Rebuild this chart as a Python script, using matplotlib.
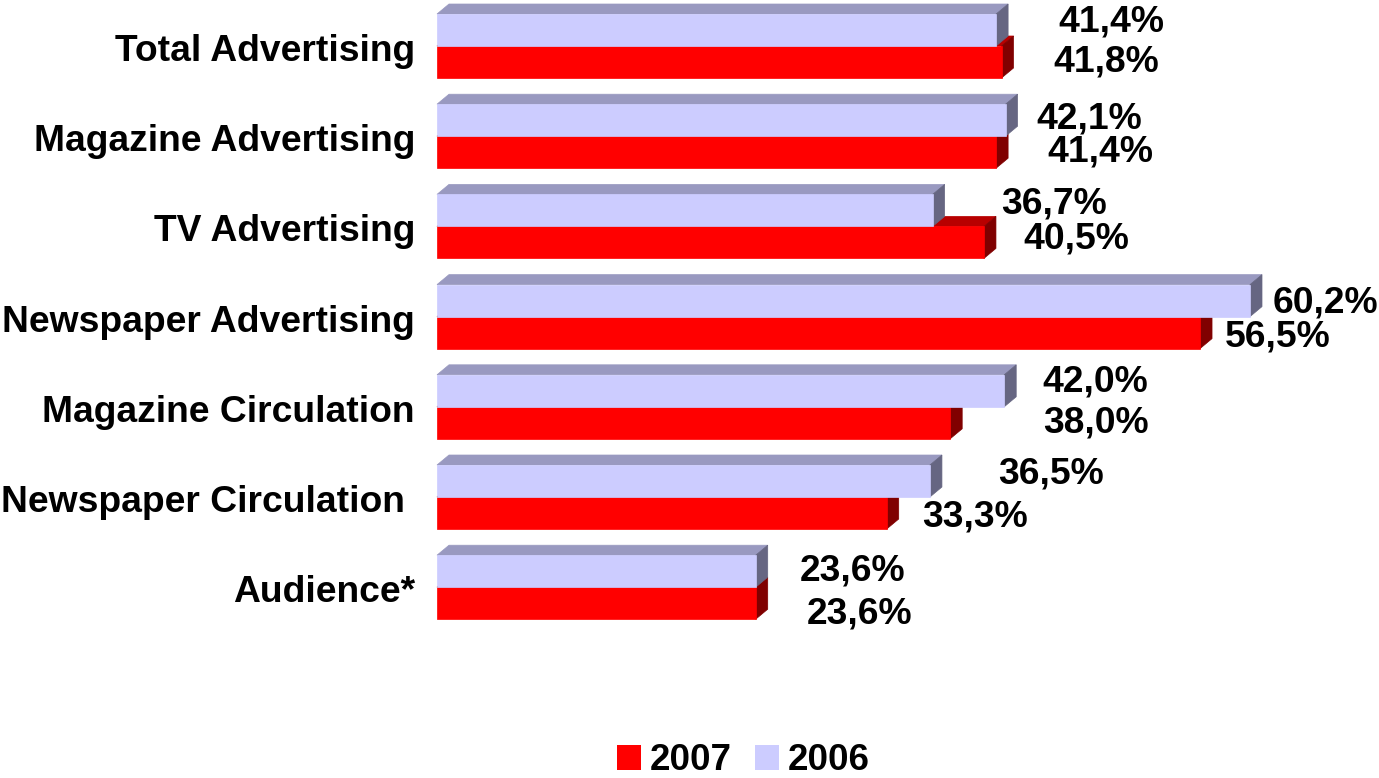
import matplotlib
matplotlib.use("Agg")
import matplotlib.pyplot as plt
from matplotlib.patches import Polygon, Patch

plt.rcParams['font.family'] = ['Liberation Sans', 'DejaVu Sans']
plt.rcParams['font.weight'] = 'bold'

# Data
categories = ["Total Advertising", "Magazine Advertising", "TV Advertising",
              "Newspaper Advertising", "Magazine Circulation",
              "Newspaper Circulation ", "Audience*"]
values_2006 = [41.4, 42.1, 36.7, 60.2, 42.0, 36.5, 23.6]
values_2007 = [41.8, 41.4, 40.5, 56.5, 38.0, 33.3, 23.6]
series_labels = ["2007", "2006"]

# Label placement (offsets in pixels from the bar end / bar centre)
label_dx_2006 = [62, 31, 69, 23, 38, 68, 44]
label_dy_2006 = [2, 8, 3, 12, 1, 3, 9]
label_dx_2007 = [52, 51, 39, 25, 93, 35, 51]
label_dy_2007 = [10, 9, 6, 14, 10, 14, 20]

# Colours: front, top, side
lav = ("#CCCCFF", "#9999C0", "#666682")
red = ("#FF0000", "#B80000", "#800000")

W, H = 1379, 778
fig = plt.figure(figsize=(W / 100, H / 100), dpi=100)
px_per_pct = 13.505
x0_px = 437
ax = fig.add_axes([x0_px / W, 0, (70 * px_per_pct) / W, 1])
ax.set_xlim(0, 70)
px_per_unit = 90.2
top_val = -46 / px_per_unit
ax.set_ylim(top_val + H / px_per_unit, top_val)
ax.axis("off")

bar_h = 32 / px_per_unit
dx = 12 / px_per_pct
dy = 10 / px_per_unit


def bar3d(y_top, length, colors):
    front, top, side = colors
    y_bot = y_top + bar_h
    ax.add_patch(Polygon([(0, y_top), (dx, y_top - dy), (length + dx, y_top - dy),
                          (length, y_top)], closed=True, facecolor=top,
                         edgecolor=top, lw=0.5, clip_on=False))
    ax.add_patch(Polygon([(length, y_top), (length + dx, y_top - dy),
                          (length + dx, y_bot - dy), (length, y_bot)], closed=True,
                         facecolor=side, edgecolor=side, lw=0.5, clip_on=False))
    ax.barh(y_top + bar_h / 2, length, height=bar_h, left=0, color=front,
            edgecolor=front, lw=0.5, clip_on=False)


for i, cat in enumerate(categories):
    v6, v7 = values_2006[i], values_2007[i]
    bar3d(i, v7, red)
    bar3d(i - bar_h, v6, lav)

    ax.annotate(cat, xy=(0, i), xytext=(-22, -15), textcoords="offset pixels",
                ha="right", va="baseline", fontsize=26.8, fontweight="bold",
                annotation_clip=False)
    ax.annotate(f"{v6:.1f}%".replace(".", ","), xy=(v6, i - bar_h / 2),
                xytext=(label_dx_2006[i], -label_dy_2006[i]),
                textcoords="offset pixels", ha="left", va="baseline",
                fontsize=26.8, fontweight="bold", annotation_clip=False)
    ax.annotate(f"{v7:.1f}%".replace(".", ","), xy=(v7, i + bar_h / 2),
                xytext=(label_dx_2007[i], -label_dy_2007[i]),
                textcoords="offset pixels", ha="left", va="baseline",
                fontsize=26.8, fontweight="bold", annotation_clip=False)

handles = [Patch(facecolor=red[0], edgecolor="none"),
           Patch(facecolor=lav[0], edgecolor="none")]
fig.legend(handles, series_labels, loc="center", bbox_to_anchor=(0.539, 0.022),
           ncol=2, frameon=False, handlelength=0.65,
           handleheight=0.65, handletextpad=0.25, columnspacing=0.62,
           borderpad=0, prop={"weight": "bold", "size": 26.5})

fig.savefig("out.png", dpi=100)
